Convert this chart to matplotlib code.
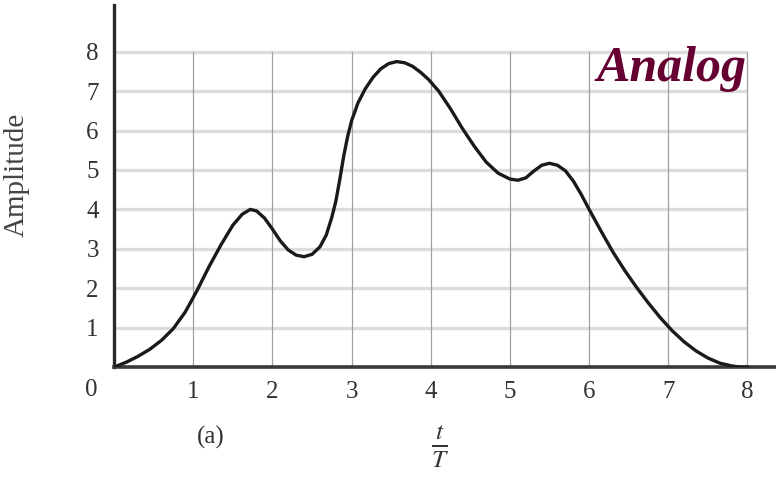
import matplotlib.pyplot as plt

# Sampled analog waveform (t/T, amplitude)
t_over_T = [0.0, 0.15, 0.3, 0.45, 0.6, 0.75, 0.9, 1.05, 1.2, 1.35, 1.5, 1.62, 1.72,
            1.8, 1.9, 2.0, 2.1, 2.2, 2.3, 2.4, 2.5, 2.6, 2.68, 2.75, 2.8, 2.85, 2.9,
            2.95, 3.0, 3.08, 3.17, 3.27, 3.37, 3.47, 3.57, 3.67, 3.77, 3.87, 3.97,
            4.1, 4.25, 4.4, 4.55, 4.7, 4.85, 5.0, 5.1, 5.2, 5.3, 5.4, 5.5, 5.6, 5.7,
            5.8, 5.9, 6.0, 6.15, 6.3, 6.45, 6.6, 6.75, 6.9, 7.05, 7.2, 7.35, 7.5,
            7.65, 7.8, 7.9, 8.0]
amplitude = [0.0, 0.12, 0.27, 0.45, 0.68, 0.98, 1.4, 1.95, 2.55, 3.1, 3.6, 3.88, 4.0,
             3.96, 3.78, 3.5, 3.2, 2.97, 2.84, 2.8, 2.86, 3.05, 3.35, 3.8, 4.2, 4.75,
             5.35, 5.85, 6.25, 6.7, 7.05, 7.35, 7.57, 7.7, 7.75, 7.72, 7.63, 7.48,
             7.3, 7.0, 6.55, 6.05, 5.6, 5.2, 4.92, 4.77, 4.74, 4.8, 4.97, 5.12, 5.17,
             5.12, 4.98, 4.72, 4.38, 4.0, 3.45, 2.92, 2.45, 2.02, 1.62, 1.25, 0.92,
             0.64, 0.41, 0.23, 0.1, 0.03, 0.0, 0.0]
x_ticks = [1, 2, 3, 4, 5, 6, 7, 8]
y_ticks = [1, 2, 3, 4, 5, 6, 7, 8]

plt.rcParams['font.family'] = ['Liberation Serif', 'DejaVu Serif']
plt.rcParams['mathtext.fontset'] = 'stix'

fig = plt.figure(figsize=(7.76, 4.83), dpi=100)
ax = fig.add_axes([0.147, 0.240, 0.853, 0.750])
ax.set_xlim(0, 8.36)
ax.set_ylim(0, 9.19)

# grid: thick light horizontals, thin darker verticals, both ending at 8
for y in y_ticks:
    ax.plot([0, 8], [y, y], color='#dcdcdc', lw=2.4, zorder=1, solid_capstyle='butt')
for x in x_ticks:
    ax.plot([x, x], [0, 8], color='#a0a0a0', lw=0.9, zorder=1.5)

ax.plot(t_over_T, amplitude, color='#1a1a1a', lw=2.4, zorder=3,
        solid_capstyle='round', solid_joinstyle='round')

for side in ['top', 'right']:
    ax.spines[side].set_visible(False)
ax.spines['left'].set_linewidth(2.4)
ax.spines['bottom'].set_linewidth(2.6)
ax.spines['left'].set_color('#2a2a2a')
ax.spines['bottom'].set_color('#3a3a3a')

ax.set_xticks(x_ticks)
ax.set_yticks(y_ticks)
ax.tick_params(length=0, labelsize=18, labelcolor='#333333')
ax.tick_params(axis='x', pad=10)
ax.tick_params(axis='y', pad=11)
ax.text(-0.29, -0.58, '0', fontsize=18, color='#333333', ha='center', va='center')

ax.set_ylabel('Amplitude', fontsize=21, color='#444444')
ax.yaxis.set_label_coords(-0.128, 0.53)

fig.text(0.272, 0.095, '(a)', fontsize=18, color='#333333', ha='center', va='center')
fig.text(0.567, 0.075, r'$\frac{t}{T}$', fontsize=26, color='#333333', ha='center', va='center')

fig.text(0.866, 0.857, 'Analog', fontsize=36, fontweight='bold', fontstyle='italic',
         color='#660033', ha='center', va='center')

fig.savefig('out.png', dpi=100)
